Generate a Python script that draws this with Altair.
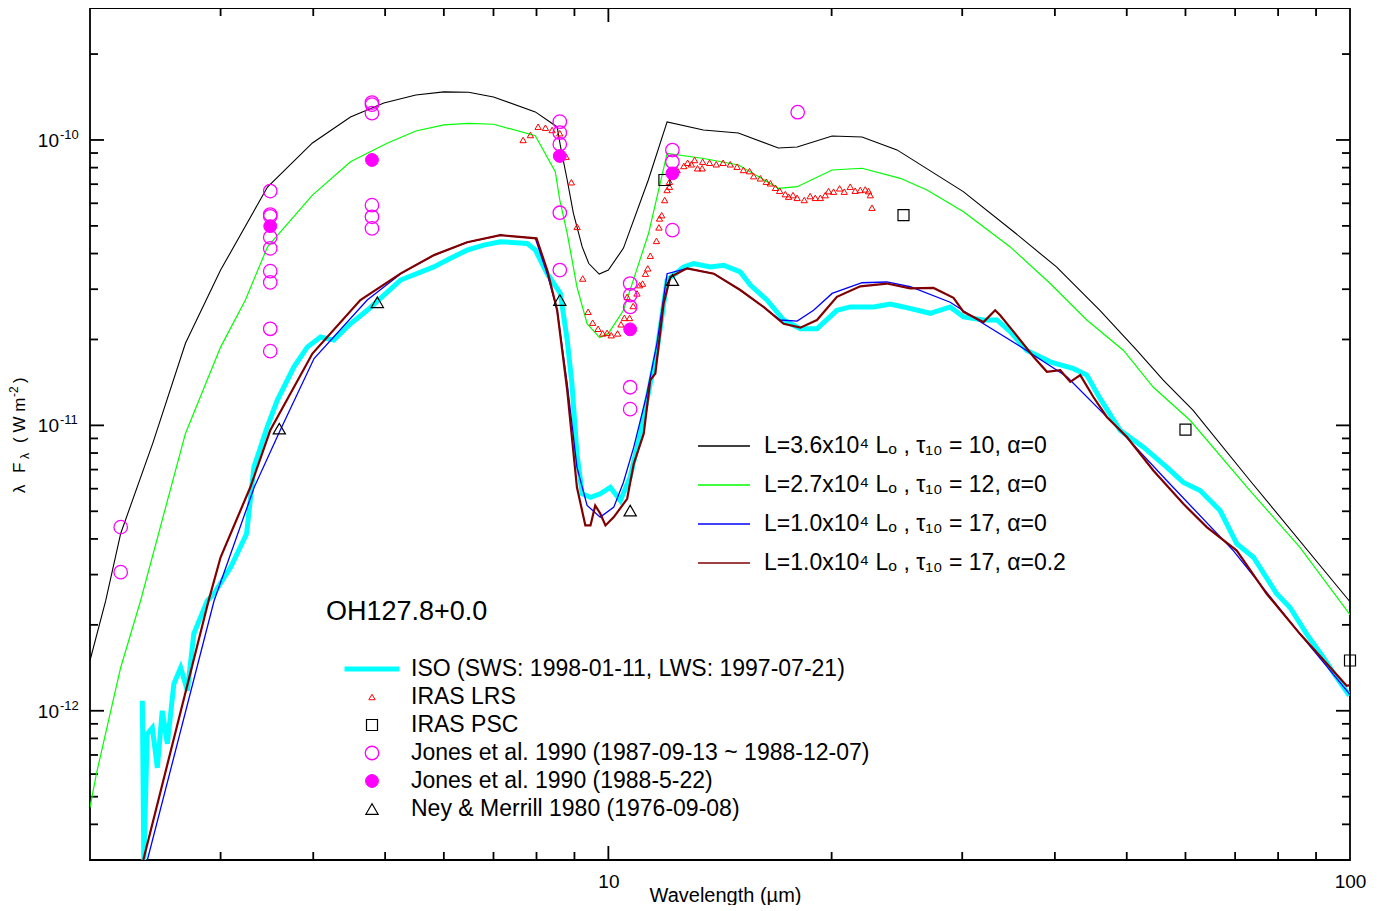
import altair as alt
import pandas as pd

FONT = "Liberation Sans, Arial, Helvetica, sans-serif"
W, H = 1260, 852

X_DOMAIN = [2, 100]
Y_DOMAIN = [3e-13, 2.9e-10]

# ---------------- model curves ----------------
M_LABELS = [
    "L=3.6x10⁴ Lₒ , τ₁₀ = 10, α=0",
    "L=2.7x10⁴ Lₒ , τ₁₀ = 12, α=0",
    "L=1.0x10⁴ Lₒ , τ₁₀ = 17, α=0",
    "L=1.0x10⁴ Lₒ , τ₁₀ = 17, α=0.2",
]
M_COLORS = ["#000000", "#00ff00", "#0000ff", "#800000"]
M_WIDTHS = [1.1, 1.2, 1.3, 2.2]

black_wl = [2.0, 2.10, 2.20, 2.43, 2.69, 3.0, 3.47, 3.99, 4.49, 4.98, 5.50, 6.0, 6.48, 7.0, 7.97, 8.53, 8.62, 8.80,
            8.97, 9.22, 9.41, 9.72, 10.0, 10.48, 11.32, 12.0, 13.43, 14.97, 16.95, 17.97, 20.03, 21.98, 24.5, 30.1,
            35.2, 40.2, 46.0, 51.6, 56.0, 61.4, 73.3, 100]
black_fl = [1.50e-12, 2.43e-12, 4.18e-12, 8.65e-12, 1.94e-11, 3.50e-11, 6.84e-11, 9.76e-11, 1.204e-10, 1.348e-10,
            1.438e-10, 1.474e-10, 1.47e-10, 1.415e-10, 1.254e-10, 1.111e-10, 9.47e-11, 7.24e-11, 5.54e-11, 4.22e-11,
            3.69e-11, 3.39e-11, 3.50e-11, 4.18e-11, 7.24e-11, 1.157e-10, 1.084e-10, 1.058e-10, 9.37e-11, 9.45e-11,
            1.033e-10, 1.024e-10, 9.23e-11, 6.59e-11, 4.77e-11, 3.59e-11, 2.53e-11, 1.83e-11, 1.44e-11, 1.13e-11,
            6.41e-12, 2.41e-12]

green_wl = [2.0, 2.04, 2.20, 2.34, 2.69, 3.0, 3.24, 3.47, 3.99, 4.49, 5.03, 5.50, 6.0, 6.48, 7.0, 7.97, 8.48, 8.6,
            8.80, 9.07, 9.36, 9.73, 10.0, 10.48, 11.33, 12.0, 13.38, 14.98, 16.96, 17.97, 20.03, 21.98, 24.75, 26.89,
            30.12, 34.82, 39.42, 44.17, 49.5, 54.3, 60.9, 73.3, 85.6, 100]
green_fl = [4.58e-13, 6.01e-13, 1.418e-12, 2.43e-12, 9.37e-12, 1.88e-11, 2.75e-11, 4.22e-11, 6.41e-11, 8.39e-11,
            9.74e-11, 1.075e-10, 1.129e-10, 1.144e-10, 1.135e-10, 1.035e-10, 7.74e-11, 6.16e-11, 4.71e-11, 3.06e-11,
            2.27e-11, 2.03e-11, 2.10e-11, 2.53e-11, 4.71e-11, 8.98e-11, 8.63e-11, 8.17e-11, 6.77e-11, 6.86e-11,
            7.85e-11, 7.96e-11, 7.34e-11, 6.68e-11, 5.60e-11, 4.22e-11, 3.14e-11, 2.34e-11, 1.83e-11, 1.36e-11,
            1.04e-11, 5.91e-12, 3.74e-12, 2.17e-12]

blue_wl = [2.39, 2.94, 3.33, 3.61, 4.01, 4.73, 5.25, 5.82, 6.45, 7.15, 7.97, 8.27, 8.53, 8.80, 9.07, 9.36, 9.75,
           10.17, 10.48, 10.82, 11.27, 11.63, 12.0, 12.77, 13.87, 15.06, 16.19, 17.05, 17.97, 18.91, 20.03, 21.98,
           23.74, 25.53, 28.9, 32.05, 36.28, 41.52, 48.5, 56.6, 69.6, 85.6, 100]
blue_fl = [3.0e-13, 2.43e-12, 6.07e-12, 9.61e-12, 1.714e-11, 2.75e-11, 3.40e-11, 3.95e-11, 4.38e-11, 4.64e-11,
           4.52e-11, 3.40e-11, 2.53e-11, 1.40e-11, 7.14e-12, 5.24e-12, 4.77e-12, 5.17e-12, 6.32e-12, 8.39e-12,
           1.29e-11, 1.94e-11, 3.40e-11, 3.55e-11, 3.40e-11, 2.98e-11, 2.60e-11, 2.34e-11, 2.32e-11, 2.53e-11,
           2.90e-11, 3.16e-11, 3.18e-11, 3.06e-11, 2.70e-11, 2.27e-11, 1.86e-11, 1.48e-11, 9.86e-12, 6.41e-12,
           3.64e-12, 1.86e-12, 1.14e-12]

red_wl = [2.36, 2.89, 3.0, 3.29, 3.50, 3.99, 4.63, 5.25, 5.82, 6.45, 7.15, 8.0, 8.27, 8.53, 8.80, 9.07, 9.31, 9.46,
          9.60, 9.75, 9.91, 10.17, 10.6, 10.82, 11.16, 11.39, 11.57, 11.87, 12.12, 12.77, 13.87, 15.06, 16.19, 17.23,
          18.15, 19.11, 20.33, 21.86, 23.74, 25.53, 27.44, 29.2, 30.12, 32.05, 33.23, 33.75, 35.18, 37.43, 39.02,
          40.67, 41.96, 43.28, 45.08, 47.0, 50.02, 54.3, 59.6, 64.1, 70.35, 77.2, 85.6, 98.97, 100]
red_fl = [3.0e-13, 2.43e-12, 3.45e-12, 6.07e-12, 9.61e-12, 1.785e-11, 2.75e-11, 3.41e-11, 3.95e-11, 4.38e-11,
          4.64e-11, 4.52e-11, 3.50e-11, 2.53e-11, 1.33e-11, 6.07e-12, 4.46e-12, 4.46e-12, 5.24e-12, 4.91e-12,
          4.46e-12, 4.77e-12, 5.53e-12, 7.34e-12, 9.35e-12, 1.44e-11, 1.52e-11, 2.67e-11, 3.31e-11, 3.55e-11,
          3.40e-11, 2.98e-11, 2.60e-11, 2.27e-11, 2.20e-11, 2.34e-11, 2.82e-11, 3.07e-11, 3.14e-11, 3.02e-11,
          3.03e-11, 2.80e-11, 2.50e-11, 2.30e-11, 2.53e-11, 2.43e-11, 2.13e-11, 1.74e-11, 1.54e-11, 1.56e-11,
          1.42e-11, 1.50e-11, 1.257e-11, 1.07e-11, 9.10e-12, 6.95e-12, 5.31e-12, 4.40e-12, 3.64e-12, 2.57e-12,
          1.86e-12, 1.224e-12, 1.23e-12]

# ---------------- observations ----------------
SERIES = [
    "ISO (SWS: 1998-01-11, LWS: 1997-07-21)",
    "IRAS LRS",
    "IRAS PSC",
    "Jones et al. 1990 (1987-09-13 ~ 1988-12-07)",
    "Jones et al. 1990 (1988-5-22)",
    "Ney & Merrill 1980 (1976-09-08)",
]
S_STROKE = ["#00ffff", "#ff0000", "#000000", "#ff00ff", "#ff00ff", "#000000"]
S_FILL = ["transparent", "transparent", "transparent", "transparent", "#ff00ff", "transparent"]
S_SHAPE = ["M-4,0H4", "triangle-up", "square", "circle", "circle", "triangle-up"]
S_SIZE = [189, 40, 121, 182, 165, 150]
S_WIDTH = [5, 1, 1.2, 1.3, 1, 1.2]

iso_wl = [2.353, 2.364, 2.389, 2.427, 2.465, 2.503, 2.543, 2.595, 2.650, 2.706, 2.761, 2.879, 2.938, 3.095, 3.252,
          3.327, 3.467, 3.577, 3.766, 3.926, 4.092, 4.264, 4.49, 4.73, 5.245, 5.816, 6.125, 6.45, 6.79, 7.15, 7.77,
          7.974, 8.27, 8.615, 8.80, 8.93, 9.07, 9.22, 9.46, 9.75, 10.06, 10.38, 10.70, 11.04, 11.27, 11.63, 12.0,
          12.64, 13.03, 13.72, 14.3, 15.06, 15.54, 16.36, 17.23, 18.15, 19.11, 20.33, 21.19, 22.78, 23.99, 25.0,
          27.16, 28.9, 30.12, 32.05, 33.42, 34.82, 36.67, 39.42, 42.39, 44.17, 46.04, 48.98, 52.66, 56.6, 59.6, 62.8,
          66.8, 70.35, 74.1, 79.65, 83.0, 87.4, 92.0, 95.9, 99.8]
iso_fl = [1.084e-12, 2.98e-13, 8.30e-13, 8.72e-13, 6.31e-13, 1.0e-12, 7.66e-13, 1.243e-12, 1.416e-12, 1.175e-12,
          1.863e-12, 2.43e-12, 2.57e-12, 3.18e-12, 4.17e-12, 7.14e-12, 9.86e-12, 1.224e-11, 1.60e-11, 1.88e-11,
          2.04e-11, 1.99e-11, 2.27e-11, 2.53e-11, 3.23e-11, 3.59e-11, 3.85e-11, 4.11e-11, 4.28e-11, 4.40e-11,
          4.34e-11, 4.11e-11, 3.40e-11, 2.90e-11, 1.99e-11, 1.40e-11, 7.96e-12, 5.76e-12, 5.60e-12, 5.76e-12,
          6.07e-12, 5.45e-12, 6.59e-12, 9.35e-12, 1.224e-11, 1.83e-11, 3.23e-11, 3.59e-11, 3.69e-11, 3.59e-11,
          3.64e-11, 3.45e-11, 3.10e-11, 2.75e-11, 2.34e-11, 2.18e-11, 2.18e-11, 2.53e-11, 2.60e-11, 2.60e-11,
          2.66e-11, 2.60e-11, 2.47e-11, 2.60e-11, 2.40e-11, 2.34e-11, 2.34e-11, 2.13e-11, 1.83e-11, 1.67e-11,
          1.58e-11, 1.50e-11, 1.24e-11, 9.61e-12, 8.39e-12, 7.14e-12, 6.31e-12, 5.91e-12, 5.03e-12, 3.85e-12,
          3.45e-12, 2.57e-12, 2.30e-12, 1.86e-12, 1.54e-12, 1.31e-12, 1.13e-12]

lrs_wl = [7.674, 7.85, 8.04, 8.225, 8.397, 8.599, 8.77, 8.915, 9.075, 9.234, 9.39, 9.524, 9.685, 9.825, 9.96, 10.09,
          10.29, 10.40, 10.51, 10.68, 10.60, 10.80, 10.93, 11.02, 11.12, 11.22, 11.30, 11.39, 11.61, 11.70, 11.72,
          11.80, 11.91, 12.0, 12.09, 12.09, 12.38, 12.64, 12.79, 12.94, 13.07, 13.19, 13.38, 13.40, 13.69, 13.98,
          14.28, 14.60, 14.91, 15.21, 15.50, 15.70, 16.03, 16.33, 16.54, 16.80, 17.02, 17.32, 17.50, 17.74, 17.97,
          18.37, 18.71, 19.01, 19.31, 19.61, 19.81, 20.12, 20.50, 20.80, 21.19, 21.52, 21.86, 22.20, 22.43, 22.55,
          22.67]
lrs_fl = [1.0e-10, 1.041e-10, 1.113e-10, 1.104e-10, 1.084e-10, 1.056e-10, 8.74e-11, 7.11e-11, 4.96e-11, 3.27e-11,
          2.50e-11, 2.29e-11, 2.18e-11, 2.10e-11, 2.11e-11, 2.07e-11, 2.10e-11, 2.26e-11, 2.38e-11, 2.38e-11,
          2.82e-11, 2.62e-11, 2.90e-11, 3.10e-11, 3.14e-11, 3.40e-11, 3.55e-11, 3.93e-11, 4.43e-11, 4.94e-11,
          5.31e-11, 5.45e-11, 6.16e-11, 6.68e-11, 6.86e-11, 7.14e-11, 7.85e-11, 8.11e-11, 8.32e-11, 8.22e-11,
          8.51e-11, 7.96e-11, 7.96e-11, 8.39e-11, 8.32e-11, 8.22e-11, 8.32e-11, 8.22e-11, 8.06e-11, 7.85e-11,
          7.78e-11, 7.47e-11, 7.34e-11, 7.14e-11, 7.05e-11, 6.80e-11, 6.64e-11, 6.46e-11, 6.33e-11, 6.41e-11,
          6.27e-11, 6.16e-11, 6.36e-11, 6.27e-11, 6.27e-11, 6.41e-11, 6.62e-11, 6.59e-11, 6.77e-11, 6.59e-11,
          6.86e-11, 6.64e-11, 6.68e-11, 6.71e-11, 6.62e-11, 6.41e-11, 5.79e-11]

psc_wl = [11.9, 25, 60, 100]
psc_fl = [7.24e-11, 5.45e-11, 9.66e-12, 1.50e-12]

jones_wl = [2.2, 2.2, 3.5, 3.5, 3.5, 3.5, 3.5, 3.5, 3.5, 3.5, 3.5, 4.8, 4.8, 4.8, 4.8, 4.8, 4.8,
            8.6, 8.6, 8.6, 8.6, 8.6, 10.7, 10.7, 10.7, 10.7, 10.7, 12.2, 12.2, 12.2, 18.0]
jones_fl = [4.40e-12, 3.06e-12, 6.62e-11, 5.48e-11, 5.40e-11, 4.56e-11, 4.17e-11, 3.47e-11, 3.17e-11, 2.18e-11,
            1.82e-11, 1.352e-10, 1.33e-10, 1.241e-10, 5.91e-11, 5.38e-11, 4.90e-11,
            1.159e-10, 1.061e-10, 9.66e-11, 5.56e-11, 3.50e-11, 3.14e-11, 2.86e-11, 2.60e-11, 1.36e-11, 1.14e-11,
            9.22e-11, 8.39e-11, 4.83e-11, 1.251e-10]

jonesf_wl = [3.5, 4.8, 8.6, 10.7, 12.2]
jonesf_fl = [4.99e-11, 8.51e-11, 8.79e-11, 2.17e-11, 7.64e-11]

ney_wl = [3.6, 4.88, 8.6, 10.7, 12.2]
ney_fl = [9.74e-12, 2.70e-11, 2.75e-11, 5.03e-12, 3.23e-11]

OBJECT = "OH127.8+0.0"

# ---------------- axes ----------------
X_LABEL_VALUES = [10, 100]
X_MINOR = [3, 4, 5, 6, 7, 8, 9, 20, 30, 40, 50, 60, 70, 80, 90]
X_MAJOR = [10]
Y_MINOR = [4e-13, 5e-13, 6e-13, 7e-13, 8e-13, 9e-13,
           2e-12, 3e-12, 4e-12, 5e-12, 6e-12, 7e-12, 8e-12, 9e-12,
           2e-11, 3e-11, 4e-11, 5e-11, 6e-11, 7e-11, 8e-11, 9e-11, 2e-10]
Y_MAJOR = [1e-12, 1e-11, 1e-10]
Y_LABEL_EXP = ["-12", "-11", "-10"]

xs = alt.Scale(type="log", domain=X_DOMAIN, nice=False)
ys = alt.Scale(type="log", domain=Y_DOMAIN, nice=False)

XAX = alt.Axis(values=X_LABEL_VALUES, format="d", ticks=False, domain=False, grid=False,
               labelFontSize=19, labelPadding=12, labelFont=FONT, labelColor="black", labelFlush=False,
               title="Wavelength (µm)", titleFont=FONT, titleFontSize=20, titleFontWeight="normal",
               titleColor="black", titleX=635, titleY=35, titleBaseline="middle", titleAlign="center")


def X(field="wl"):
    return alt.X(f"{field}:Q", scale=xs, axis=XAX)


def Y(field="flux"):
    return alt.Y(f"{field}:Q", scale=ys, axis=None)


LEG_FS = 23

LEG1 = alt.Legend(title=None, orient="none", legendX=602.5, legendY=426.5, direction="vertical",
                  symbolType="M-4,0H4", symbolSize=169, symbolStrokeWidth=1.5,
                  labelFontSize=LEG_FS, labelFont=FONT, labelColor="black", labelLimit=1000,
                  rowPadding=15, symbolOffset=20, labelOffset=28.5, padding=0)

LEG2 = alt.Legend(title=None, orient="none", legendX=250.5, legendY=649.5, direction="vertical",
                  labelFontSize=LEG_FS, labelFont=FONT, labelColor="black", labelLimit=1000,
                  rowPadding=4, symbolOffset=20, labelOffset=27.5, padding=0, symbolOpacity=1)


def sc(rng, typ=None):
    if typ:
        return alt.Scale(domain=SERIES, range=rng, type=typ)
    return alt.Scale(domain=SERIES, range=rng)


# ---------------- tick rules (inward ticks on all four sides) ----------------
TICK_W = 1.8


def xticks(vals, length):
    df = pd.DataFrame({"v": vals})
    b = alt.Chart(df).mark_rule(color="black", strokeWidth=TICK_W).encode(
        x=X("v"), y=alt.value(H), y2=alt.value(H - length))
    t = alt.Chart(df).mark_rule(color="black", strokeWidth=TICK_W).encode(
        x=X("v"), y=alt.value(0), y2=alt.value(length))
    return [b, t]


def yticks(vals, length):
    df = pd.DataFrame({"v": vals})
    l = alt.Chart(df).mark_rule(color="black", strokeWidth=TICK_W).encode(
        y=Y("v"), x=alt.value(0), x2=alt.value(length))
    r = alt.Chart(df).mark_rule(color="black", strokeWidth=TICK_W).encode(
        y=Y("v"), x=alt.value(W), x2=alt.value(W - length))
    return [l, r]


layers = []
layers += xticks(X_MINOR, 8) + xticks(X_MAJOR, 14) + yticks(Y_MINOR, 8) + yticks(Y_MAJOR, 14)


def model(wl, fl, idx):
    df = pd.DataFrame({"wl": wl, "flux": fl, "model": M_LABELS[idx]})
    return alt.Chart(df).mark_line(strokeWidth=M_WIDTHS[idx], clip=True).encode(
        x=X(), y=Y(),
        color=alt.Color("model:N", scale=alt.Scale(domain=M_LABELS, range=M_COLORS), legend=LEG1))


layers.append(model(black_wl, black_fl, 0))
layers.append(model(green_wl, green_fl, 1))

iso_df = pd.DataFrame({"wl": iso_wl, "flux": iso_fl, "series": SERIES[0]})
layers.append(alt.Chart(iso_df).mark_line(clip=True).encode(
    x=X(), y=Y(),
    stroke=alt.Stroke("series:N", scale=sc(S_STROKE), legend=LEG2),
    strokeWidth=alt.StrokeWidth("series:N", scale=sc(S_WIDTH, "ordinal"), legend=LEG2)))

layers.append(model(blue_wl, blue_fl, 2))
layers.append(model(red_wl, red_fl, 3))

pts_df = pd.concat([
    pd.DataFrame({"wl": lrs_wl, "flux": lrs_fl, "series": SERIES[1]}),
    pd.DataFrame({"wl": psc_wl, "flux": psc_fl, "series": SERIES[2]}),
    pd.DataFrame({"wl": jones_wl, "flux": jones_fl, "series": SERIES[3]}),
    pd.DataFrame({"wl": jonesf_wl, "flux": jonesf_fl, "series": SERIES[4]}),
    pd.DataFrame({"wl": ney_wl, "flux": ney_fl, "series": SERIES[5]}),
], ignore_index=True)

layers.append(alt.Chart(pts_df).mark_point(opacity=1, clip=False).encode(
    x=X(), y=Y(),
    stroke=alt.Stroke("series:N", scale=sc(S_STROKE), legend=LEG2),
    fill=alt.Fill("series:N", scale=sc(S_FILL), legend=LEG2),
    shape=alt.Shape("series:N", scale=sc(S_SHAPE), legend=LEG2),
    size=alt.Size("series:N", scale=sc(S_SIZE, "ordinal"), legend=LEG2),
    strokeWidth=alt.StrokeWidth("series:N", scale=sc(S_WIDTH, "ordinal"), legend=LEG2)))

# ---------------- y tick labels (10 with superscript exponent) ----------------
ylab_df = pd.DataFrame({"v": Y_MAJOR, "base": ["10"] * len(Y_MAJOR), "exp": Y_LABEL_EXP})
layers.append(alt.Chart(ylab_df).mark_text(align="right", baseline="middle", fontSize=19, font=FONT,
                                           color="black", dy=1).encode(
    y=Y("v"), x=alt.value(-31), text="base:N"))
layers.append(alt.Chart(ylab_df).mark_text(align="left", baseline="middle", fontSize=13, font=FONT,
                                           color="black", dy=-5).encode(
    y=Y("v"), x=alt.value(-30), text="exp:N"))

# ---------------- y axis title pieces (rotated) ----------------
YT = [("λ", 17, -70, 485), ("F", 17, -70, 465), ("λ", 12, -65, 451),
      ("( W m", 17, -70, 435), ("-2", 12, -76, 389), (")", 17, -70, 375)]
for txt, fs, px, py in YT:
    layers.append(alt.Chart(pd.DataFrame({"t": [txt]})).mark_text(
        align="left", baseline="middle", angle=270, fontSize=fs, font=FONT, color="black").encode(
        x=alt.value(px), y=alt.value(py), text="t:N"))

# object name
layers.append(alt.Chart(pd.DataFrame({"t": [OBJECT]})).mark_text(
    align="left", baseline="middle", fontSize=27, font=FONT, color="black").encode(
    x=alt.value(236), y=alt.value(604), text="t:N"))

chart = alt.layer(*layers).properties(
    width=W, height=H,
    padding={"left": 82, "top": 0, "right": 36, "bottom": 45},
    autosize=alt.AutoSizeParams(type="none"),
).configure(font=FONT).configure_view(stroke="black", strokeWidth=1.8)

chart.save("out.html", embed_options={"renderer": "svg", "actions": False})
